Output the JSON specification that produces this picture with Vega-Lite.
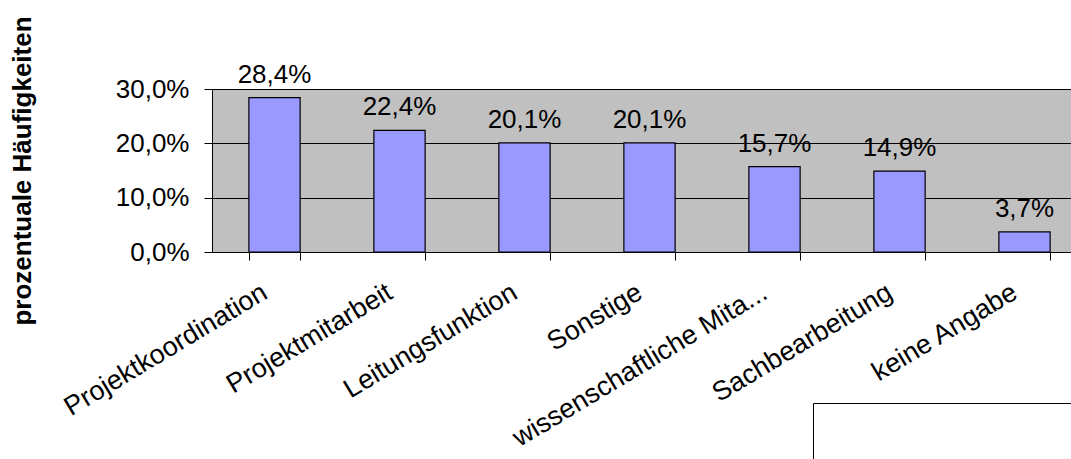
{
  "$schema": "https://vega.github.io/schema/vega-lite/v6.json",
  "autosize": {"type": "none"},
  "padding": {"left": 212, "top": 89, "right": 0, "bottom": 207},
  "width": 859,
  "height": 163,
  "background": "white",
  "config": {
    "locale": {"number": {"decimal": ",", "thousands": ".", "grouping": [3], "currency": ["", " €"]}},
    "view": {"fill": "#c0c0c0", "stroke": null},
    "font": "Liberation Sans",
    "axis": {"labelFont": "Liberation Sans", "titleFont": "Liberation Sans", "labelColor": "#000", "titleColor": "#000", "domainColor": "#000", "tickColor": "#000"}
  },
  "data": {
    "values": [
      {"Kategorie": "Projektkoordination", "Anteil": 0.284},
      {"Kategorie": "Projektmitarbeit", "Anteil": 0.224},
      {"Kategorie": "Leitungsfunktion", "Anteil": 0.201},
      {"Kategorie": "Sonstige", "Anteil": 0.201},
      {"Kategorie": "wissenschaftliche Mita...", "Anteil": 0.157},
      {"Kategorie": "Sachbearbeitung", "Anteil": 0.149},
      {"Kategorie": "keine Angabe", "Anteil": 0.037}
    ]
  },
  "encoding": {
    "x": {
      "field": "Kategorie", "type": "nominal", "sort": null,
      "scale": {"range": [0, 875], "paddingInner": 0.59, "paddingOuter": 0.295},
      "axis": {
        "title": null, "labelAngle": -31, "labelAlign": "right", "labelBaseline": "middle",
        "labelFontSize": 27, "labelPadding": 30, "labelOffset": -10, "tickBand": "extent", "tickSize": 8,
        "domainWidth": 1, "grid": false, "labelLimit": 400, "labelOverlap": false
      }
    },
    "y": {
      "field": "Anteil", "type": "quantitative",
      "scale": {"domain": [0, 0.3], "nice": false},
      "axis": {
        "title": "prozentuale Häufigkeiten", "titleFontSize": 26, "titleFontWeight": "bold",
        "titlePadding": 80, "values": [0, 0.1, 0.2, 0.3], "format": ".1%",
        "labelFontSize": 26, "labelPadding": 15, "tickSize": 8, "grid": true,
        "gridColor": "#000", "gridOpacity": 1, "gridWidth": 1
      }
    }
  },
  "layer": [
    {
      "mark": {"type": "bar", "stroke": "#000", "strokeWidth": 1.2},
      "encoding": {
        "color": {
          "datum": " ",
          "scale": {"range": ["#9999ff"]},
          "legend": {
            "orient": "none", "legendX": 601, "legendY": 314, "title": null,
            "symbolType": "square", "symbolSize": 40000, "symbolOpacity": 0, "symbolStrokeWidth": 0,
            "labelFontSize": 1, "padding": 40, "strokeColor": "#000", "fillColor": "#fff"
          }
        }
      }
    },
    {
      "mark": {"type": "text", "baseline": "alphabetic", "dy": -15, "fontSize": 26, "font": "Liberation Sans", "color": "#000"},
      "encoding": {
        "text": {"field": "Anteil", "type": "quantitative", "format": ".1%"}
      }
    }
  ]
}
